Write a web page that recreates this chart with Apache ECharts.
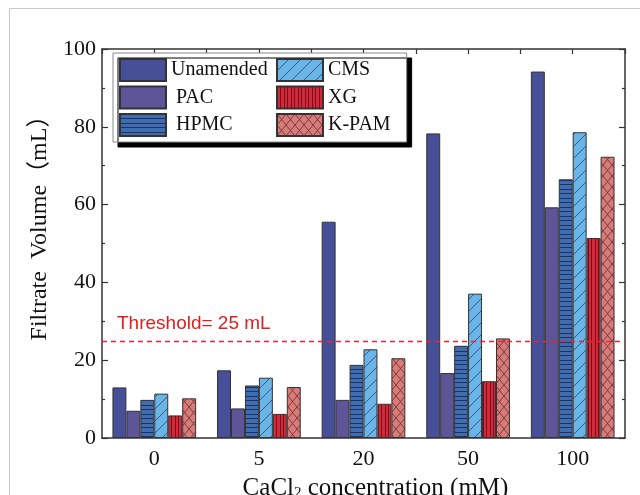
<!DOCTYPE html>
<html>
<head>
<meta charset="utf-8">
<script src="https://cdn.jsdelivr.net/npm/echarts@6/dist/echarts.min.js"></script>
<style>
html,body{margin:0;padding:0;background:#fff;}
#c{width:640px;height:495px;}
</style>
</head>
<body>
<div id="c"></div>
<script>
// ---- data ----
const categories = ['0', '5', '20', '50', '100'];
const seriesNames = ['Unamended', 'PAC', 'HPMC', 'CMS', 'XG', 'K-PAM'];
const unamended = [13.0, 17.4, 55.6, 78.3, 94.2];
const pac       = [7.0, 7.6, 9.8, 16.7, 59.3];
const hpmc      = [9.8, 13.5, 18.8, 23.7, 66.5];
const cms       = [11.4, 15.5, 22.8, 37.1, 78.6];
const xg        = [5.8, 6.2, 8.8, 14.6, 51.4];
const kpam      = [10.2, 13.1, 20.5, 25.6, 72.3];
const yTicks = [0, 20, 40, 60, 80, 100];
const threshold = 25;
const thresholdLabel = 'Threshold= 25 mL';
const xTitle = 'CaCl{sub|2} concentration (mM)';
const yTitle = 'Filtrate  Volume（mL）';

// ---- patterns ----
function pat(bg, w, h, draw) {
  const c = document.createElement('canvas');
  c.width = w; c.height = h;
  const g = c.getContext('2d');
  g.fillStyle = bg; g.fillRect(0, 0, w, h);
  draw(g, w, h);
  return { image: c, repeat: 'repeat' };
}
const pHPMC = pat('#3f6db0', 8, 9, (g, w) => { g.fillStyle = '#1e3262'; g.fillRect(0, 0, w, 1); g.fillRect(0, 4, w, 1); });
const pCMS = pat('#69b5e7', 12, 12, (g, w, h) => {
  g.strokeStyle = '#2d4f80'; g.lineWidth = 0.9;
  g.beginPath(); g.moveTo(0, h); g.lineTo(w, 0);
  g.moveTo(-1, 1); g.lineTo(1, -1); g.moveTo(w - 1, h + 1); g.lineTo(w + 1, h - 1); g.stroke();
});
const pXG = pat('#d32a3b', 7, 4, (g, w, h) => { g.fillStyle = '#7d0c1a'; g.fillRect(0, 0, 1, h); g.fillRect(3, 0, 1, h); });
const pKPAM = pat('#d87b79', 9, 11, (g, w, h) => {
  g.strokeStyle = '#6e3535'; g.lineWidth = 0.9;
  g.beginPath(); g.moveTo(0, 0); g.lineTo(w, h); g.moveTo(w, 0); g.lineTo(0, h); g.stroke();
});

const serif = '"Liberation Serif", "Times New Roman", "Noto Sans CJK SC", serif';
const fills = ['#474f98', '#5d5597', pHPMC, pCMS, pXG, pKPAM];
const values = [unamended, pac, hpmc, cms, xg, kpam];

const series = seriesNames.map((n, i) => {
  const s = {
    name: n, type: 'bar', data: values[i],
    barGap: '0%', barCategoryGap: '20%',
    itemStyle: { color: fills[i], borderColor: '#333', borderWidth: 1 },
    emphasis: { disabled: true }
  };
  if (i === 0) {
    s.markLine = {
      silent: true, symbol: ['none', 'none'], z: 10,
      data: [{ yAxis: threshold }],
      lineStyle: { color: '#ee2233', type: [5, 4], width: 1.3, opacity: 1 },
      emphasis: { disabled: true },
      label: {
        show: true, position: 'insideStartTop', formatter: thresholdLabel,
        color: '#e02020', fontSize: 19, fontFamily: '"Liberation Sans", Arial, sans-serif',
        distance: [15, 7]
      }
    };
  }
  return s;
});

const legendBase = {
  orient: 'vertical', itemWidth: 46, itemHeight: 22, itemGap: 3.5,
  textStyle: { fontFamily: serif, fontSize: 20, color: '#111' },
  selectedMode: false, icon: 'rect'
};

const axisLine = { show: true, onZero: false, lineStyle: { color: '#333', width: 1.5 } };

const chart = echarts.init(document.getElementById('c'), null, { renderer: 'canvas' });
chart.setOption({
  animation: false,
  backgroundColor: '#fff',
  grid: { left: 102, right: 15, top: 49, bottom: 57, containLabel: false, outerBoundsMode: 'none' },
  graphic: [{
    type: 'rect', shape: { x: 9.5, y: 8.5, width: 700, height: 600 },
    style: { fill: 'none', stroke: '#c9c9c9', lineWidth: 1 }, silent: true, z: -10
  }],
  legend: [
    Object.assign({}, legendBase, {
      data: seriesNames.slice(0, 3), left: 113, top: 53,
      padding: [5, 139, 5, 6],
      formatter: n => (n === 'Unamended' ? n : ' ' + n),
      backgroundColor: '#fff', borderColor: '#888', borderWidth: 1,
      shadowColor: '#000', shadowOffsetX: 5, shadowOffsetY: 5, shadowBlur: 0,
      z: 5
    }),
    Object.assign({}, legendBase, {
      data: seriesNames.slice(3), left: 276, top: 58, padding: 0, z: 6
    })
  ],
  xAxis: [{
    type: 'category', data: categories, position: 'bottom',
    axisLine: axisLine,
    axisTick: { inside: true, length: 4, lineStyle: { color: '#333', width: 1.2 } },
    axisLabel: { fontFamily: serif, fontSize: 22, color: '#111', margin: 10 },
    name: xTitle, nameLocation: 'middle', nameGap: 38,
    nameTextStyle: {
      fontFamily: serif, fontSize: 25, color: '#111', padding: [0, 0, 0, 24],
      rich: { sub: { fontFamily: serif, fontSize: 15, color: '#111', verticalAlign: 'bottom', padding: [10, 0, 0, 0] } }
    }
  }, {
    type: 'value', position: 'top', min: -0.5, max: 4.5, interval: 0.5,
    axisLine: axisLine,
    axisTick: { show: true, inside: true, length: 5, lineStyle: { color: '#333', width: 1.2 } },
    axisLabel: { show: false }, splitLine: { show: false }
  }],
  yAxis: [{
    type: 'value', min: 0, max: 100, interval: 20, position: 'left',
    axisLine: axisLine,
    axisTick: { show: true, inside: true, length: 6, lineStyle: { color: '#333', width: 1.2 } },
    minorTick: { show: true, splitNumber: 2, length: 3, lineStyle: { color: '#333', width: 1.2 } },
    axisLabel: { fontFamily: serif, fontSize: 22, color: '#111', margin: 6,
      formatter: v => (yTicks.indexOf(v) >= 0 ? String(v) : '') },
    splitLine: { show: false },
    name: yTitle, nameLocation: 'middle', nameGap: 44, nameRotate: 90,
    nameTextStyle: { fontFamily: serif, fontSize: 24, color: '#111', padding: [0, 0, 0, 43] }
  }, {
    type: 'value', min: 0, max: 100, interval: 20, position: 'right',
    axisLine: axisLine,
    axisTick: { show: true, inside: true, length: 6, lineStyle: { color: '#333', width: 1.2 } },
    minorTick: { show: true, splitNumber: 2, length: 3, lineStyle: { color: '#333', width: 1.2 } },
    axisLabel: { show: false }, splitLine: { show: false }
  }],
  series: series
});
</script>
</body>
</html>
